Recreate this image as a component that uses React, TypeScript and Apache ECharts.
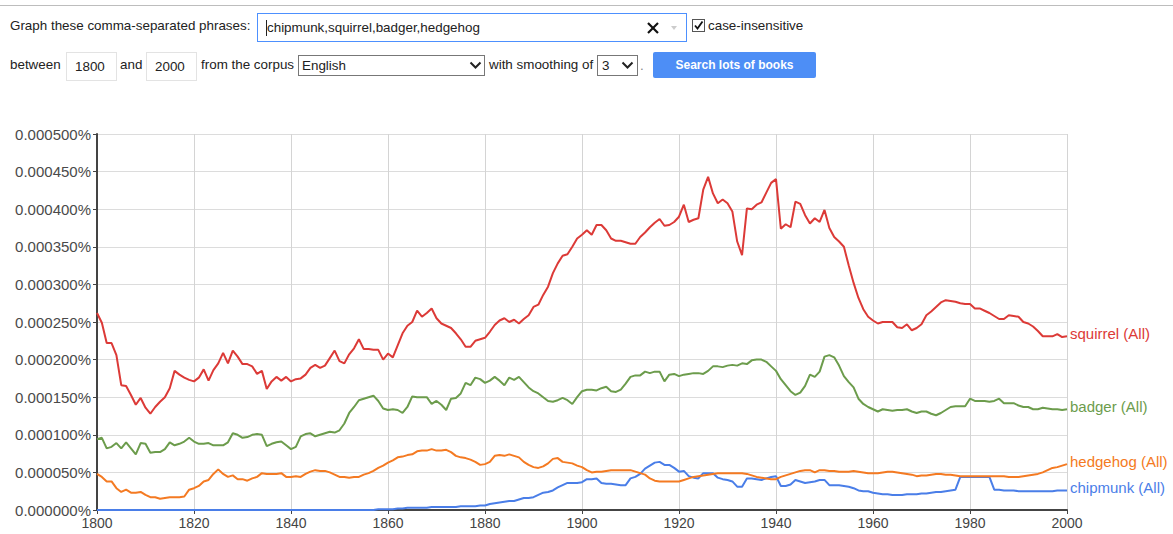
import React, { useEffect, useRef } from "react";
import * as echarts from "echarts";

// values in millionths of a percent (262 => 0.000262%)
const START_YEAR = 1800;
const END_YEAR = 2000;

const squirrel = [
  262, 249, 222, 222, 206, 166, 165, 153, 140, 149,
  136, 128, 137, 144, 150, 162, 185, 180, 176, 173,
  171, 176, 187, 172, 186, 195, 209, 195, 212, 204,
  194, 194, 191, 181, 185, 161, 171, 177, 172, 177,
  171, 174, 175, 180, 189, 193, 189, 192, 202, 212,
  198, 195, 207, 215, 227, 214, 214, 213, 213, 200,
  208, 203, 219, 235, 245, 250, 265, 257, 262, 268,
  255, 248, 245, 242, 235, 227, 217, 217, 225, 227,
  229, 237, 246, 252, 255, 250, 253, 248, 254, 259,
  270, 273, 286, 297, 315, 328, 338, 340, 350, 361,
  366, 372, 366, 379, 379, 372, 361, 358, 358, 356,
  354, 354, 363, 369, 376, 382, 387, 378, 379, 383,
  390, 406, 383, 386, 388, 426, 443, 421, 408, 413,
  408, 397, 357, 339, 401, 400, 406, 409, 422, 435,
  440, 374, 380, 376, 410, 407, 392, 381, 388, 383,
  399, 375, 363, 357, 350, 325, 302, 282, 267, 257,
  252, 248, 250, 250, 250, 243, 242, 247, 239, 242,
  247, 259, 264, 270, 276, 279, 278, 277, 275, 274,
  274, 268, 268, 265, 262, 258, 254, 254, 259, 258,
  257, 250, 248, 244, 238, 231, 231, 231, 234, 230,
  231,
];

const badger = [
  94, 96, 82, 84, 89, 82, 90, 82, 74, 89,
  88, 76, 77, 77, 81, 90, 86, 88, 91, 96,
  91, 88, 88, 89, 86, 86, 86, 90, 102, 100,
  96, 97, 100, 101, 100, 85, 88, 90, 91, 86,
  81, 84, 98, 101, 102, 98, 100, 102, 104, 103,
  106, 115, 129, 137, 146, 148, 150, 152, 145, 135,
  133, 134, 133, 129, 137, 151, 150, 150, 150, 141,
  145, 140, 133, 148, 149, 155, 169, 166, 176, 174,
  169, 172, 177, 172, 166, 176, 173, 177, 170, 163,
  158, 155, 150, 145, 144, 146, 149, 146, 141, 150,
  158, 160, 160, 159, 162, 164, 158, 157, 160, 168,
  177, 179, 179, 184, 182, 184, 184, 171, 180, 181,
  178, 180, 181, 182, 182, 181, 185, 191, 191, 190,
  192, 193, 192, 195, 194, 199, 200, 200, 197, 191,
  185, 174, 166, 158, 153, 156, 165, 180, 177, 184,
  204, 206, 203, 192, 178, 170, 163, 148, 141, 137,
  134, 131, 134, 133, 132, 133, 133, 134, 131, 129,
  131, 131, 128, 126, 129, 133, 137, 138, 138, 138,
  148, 145, 145, 145, 144, 145, 148, 142, 142, 142,
  139, 137, 137, 134, 134, 136, 135, 134, 134, 133,
  134,
];

const hedgehog = [
  48, 44, 38, 38, 29, 24, 27, 23, 23, 24,
  20, 17, 17, 15, 16, 17, 17, 17, 18, 27,
  29, 32, 38, 40, 48, 54, 48, 44, 46, 41,
  41, 39, 42, 44, 49, 48, 48, 48, 49, 44,
  44, 45, 44, 48, 51, 53, 52, 52, 50, 47,
  44, 44, 43, 44, 44, 47, 49, 52, 56, 59,
  63, 66, 70, 71, 73, 74, 78, 79, 79, 81,
  79, 79, 80, 77, 72, 70, 69, 67, 64, 60,
  61, 64, 72, 73, 72, 74, 72, 70, 64, 60,
  57, 56, 58, 62, 68, 69, 64, 63, 62, 59,
  57, 53, 50, 51, 51, 52, 53, 53, 53, 53,
  53, 51, 49, 47, 42, 39, 38, 38, 38, 38,
  38, 40, 42, 44, 45, 46, 47, 48, 49, 49,
  49, 49, 49, 49, 48, 46, 44, 43, 42, 41,
  41, 44, 46, 48, 50, 52, 53, 53, 50, 53,
  53, 52, 52, 51, 51, 51, 52, 51, 50, 49,
  49, 49, 50, 51, 51, 50, 49, 48, 47, 45,
  46, 46, 47, 48, 48, 47, 47, 46, 45, 45,
  45, 45, 45, 45, 45, 45, 45, 45, 44, 44,
  44, 45, 46, 47, 48, 50, 53, 56, 57, 59,
  61,
];

const chipmunk = [
  0, 0, 0, 0, 0, 0, 0, 0, 0, 0,
  0, 0, 0, 0, 0, 0, 0, 0, 0, 0,
  0, 0, 0, 0, 0, 0, 0, 0, 0, 0,
  0, 0, 0, 0, 0, 0, 0, 0, 0, 0,
  0, 0, 0, 0, 0, 0, 0, 0, 0, 0,
  0, 0, 0, 0, 0, 0, 0, 0, 1, 1,
  1, 1, 2, 2, 3, 3, 3, 3, 3, 4,
  4, 4, 4, 4, 4, 5, 5, 5, 5, 6,
  6, 8, 9, 10, 11, 12, 12, 14, 16, 16,
  17, 20, 23, 24, 26, 30, 33, 36, 36, 36,
  37, 41, 41, 42, 36, 35, 35, 34, 33, 33,
  42, 44, 48, 55, 59, 63, 64, 60, 60, 56,
  51, 52, 45, 43, 42, 49, 49, 49, 43, 41,
  40, 38, 31, 31, 42, 42, 41, 40, 42, 44,
  45, 32, 32, 34, 40, 38, 36, 37, 38, 40,
  40, 33, 33, 33, 32, 31, 29, 26, 25, 25,
  23, 22, 21, 21, 20, 20, 20, 21, 21, 21,
  22, 22, 23, 24, 24, 25, 26, 27, 44, 44,
  44, 44, 44, 44, 44, 27, 27, 26, 26, 26,
  25, 25, 25, 25, 25, 25, 25, 25, 26, 26,
  26,
];

const seriesNames = ["chipmunk (All)", "squirrel (All)", "badger (All)", "hedgehog (All)"];
const seriesColors = ["#4a7ee8", "#dc3a37", "#6c9c4c", "#f47a22"];
const seriesValues = [chipmunk, squirrel, badger, hedgehog];

const yTickValues = [0, 50, 100, 150, 200, 250, 300, 350, 400, 450, 500];
const yTickLabels = [
  "0.000000%", "0.000050%", "0.000100%", "0.000150%", "0.000200%", "0.000250%",
  "0.000300%", "0.000350%", "0.000400%", "0.000450%", "0.000500%",
];

const FONT = 'Arial, "Liberation Sans", sans-serif';

function Chart() {
  const ref = useRef<HTMLDivElement>(null);
  useEffect(() => {
    if (!ref.current) return;
    const chart = echarts.init(ref.current, undefined, { renderer: "svg" });
    chart.setOption({
      animation: false,
      textStyle: { fontFamily: FONT },
      grid: { left: 97, right: 106, top: 134, bottom: 24, containLabel: false },
      xAxis: {
        type: "value",
        min: START_YEAR,
        max: END_YEAR,
        interval: 20,
        axisLine: { show: true, lineStyle: { color: "#444", width: 2 } },
        axisTick: { show: true, length: 4, lineStyle: { color: "#444" } },
        axisLabel: {
          color: "#444",
          fontSize: 14,
          lineHeight: 14,
          margin: 6,
          fontFamily: FONT,
          formatter: (v: number) => String(v),
        },
        splitLine: { show: true, lineStyle: { color: "#d4d4d4", width: 1 } },
      },
      yAxis: {
        type: "value",
        min: 0,
        max: 500,
        interval: 50,
        axisLine: { show: true, lineStyle: { color: "#444", width: 2 } },
        axisTick: { show: true, length: 4, lineStyle: { color: "#444" } },
        axisLabel: {
          color: "#4a4a4a",
          fontSize: 15,
          lineHeight: 12,
          margin: 6,
          fontFamily: FONT,
          formatter: (v: number) => {
            const i = yTickValues.indexOf(Math.round(v));
            return i >= 0 ? yTickLabels[i] : "";
          },
        },
        splitLine: { show: true, lineStyle: { color: "#dcdcdc", width: 1 } },
      },
      series: seriesValues.map((vals, k) => ({
        name: seriesNames[k],
        type: "line",
        symbol: "none",
        smooth: false,
        data: vals.map((v, i) => [START_YEAR + i, v]),
        lineStyle: { color: seriesColors[k], width: 2 },
        itemStyle: { color: seriesColors[k] },
        endLabel: {
          show: true,
          formatter: "{a}",
          color: seriesColors[k],
          fontSize: 15,
          fontFamily: FONT,
          distance: 3,
          offset: [0, -3],
        },
      })),
    });
    return () => chart.dispose();
  }, []);
  return <div ref={ref} style={{ position: "absolute", left: 0, top: 0, width: 1173, height: 534 }} />;
}

const txt: React.CSSProperties = {
  position: "absolute",
  fontFamily: FONT,
  fontSize: 13.4,
  color: "#222",
  lineHeight: "16px",
  whiteSpace: "nowrap",
};

function Chevron({ left, top }: { left: number; top: number }) {
  return (
    <svg style={{ position: "absolute", left, top }} width={13} height={9}>
      <polyline points="1.5,1.5 6.5,6.5 11.5,1.5" fill="none" stroke="#222" strokeWidth={2} />
    </svg>
  );
}

function Form() {
  return (
    <>
      <div style={{ position: "absolute", left: 0, top: 5, width: 1173, height: 1, background: "#bdbdbd" }} />
      <div style={{ ...txt, left: 10, top: 18 }}>Graph these comma-separated phrases:</div>
      <div
        style={{
          position: "absolute", left: 257, top: 13, width: 430, height: 29, boxSizing: "border-box",
          border: "1px solid #4d90fe", background: "#fff",
        }}
      >
        <div style={{ position: "absolute", left: 8, top: 6, width: 1, height: 16, background: "#222" }} />
        <div style={{ ...txt, left: 9, top: 6 }}>chipmunk,squirrel,badger,hedgehog</div>
        <svg style={{ position: "absolute", left: 389, top: 8 }} width={12} height={12}>
          <line x1={1} y1={1} x2={11} y2={11} stroke="#111" strokeWidth={2.2} />
          <line x1={11} y1={1} x2={1} y2={11} stroke="#111" strokeWidth={2.2} />
        </svg>
        <svg style={{ position: "absolute", left: 413, top: 12 }} width={6} height={4}>
          <polygon points="0,0 6,0 3,4" fill="#ccc" />
        </svg>
      </div>
      <div
        style={{
          position: "absolute", left: 692, top: 19, width: 13, height: 13, boxSizing: "border-box",
          border: "1px solid #555", background: "#fff",
        }}
      >
        <svg style={{ position: "absolute", left: 0, top: 0 }} width={11} height={11}>
          <polyline points="2,5.5 4.5,8.5 9.5,1.5" fill="none" stroke="#111" strokeWidth={1.8} />
        </svg>
      </div>
      <div style={{ ...txt, left: 708, top: 18 }}>case-insensitive</div>

      <div style={{ ...txt, left: 10, top: 57 }}>between</div>
      <div
        style={{
          position: "absolute", left: 66, top: 52, width: 51, height: 29, boxSizing: "border-box",
          border: "1px solid #e3e3e3", background: "#fff",
        }}
      >
        <div style={{ ...txt, left: 8, top: 6 }}>1800</div>
      </div>
      <div style={{ ...txt, left: 120, top: 57 }}>and</div>
      <div
        style={{
          position: "absolute", left: 146, top: 52, width: 51, height: 29, boxSizing: "border-box",
          border: "1px solid #e3e3e3", background: "#fff",
        }}
      >
        <div style={{ ...txt, left: 8, top: 6 }}>2000</div>
      </div>
      <div style={{ ...txt, left: 201, top: 57 }}>from the corpus</div>
      <div
        style={{
          position: "absolute", left: 298, top: 55, width: 187, height: 21, boxSizing: "border-box",
          border: "1px solid #777", background: "#fff",
        }}
      >
        <div style={{ ...txt, left: 3, top: 2 }}>English</div>
        <Chevron left={170} top={5} />
      </div>
      <div style={{ ...txt, left: 489, top: 57 }}>with smoothing of</div>
      <div
        style={{
          position: "absolute", left: 597, top: 55, width: 41, height: 21, boxSizing: "border-box",
          border: "1px solid #777", background: "#fff",
        }}
      >
        <div style={{ ...txt, left: 4, top: 2 }}>3</div>
        <Chevron left={23} top={5} />
      </div>
      <div style={{ ...txt, left: 640, top: 58, color: "#888" }}>.</div>
      <div
        style={{
          position: "absolute", left: 653, top: 52, width: 163, height: 26, background: "#4d8ef6",
          borderRadius: 2, color: "#fff", fontFamily: FONT, fontSize: 12, fontWeight: "bold",
          lineHeight: "26px", textAlign: "center",
        }}
      >
        Search lots of books
      </div>
    </>
  );
}

export default function App() {
  useEffect(() => {
    document.body.style.margin = "0";
  }, []);
  return (
    <div style={{ position: "fixed", left: 0, top: 0, width: 1173, height: 534, background: "#fff", overflow: "hidden" }}>
      <Chart />
      <Form />
    </div>
  );
}
